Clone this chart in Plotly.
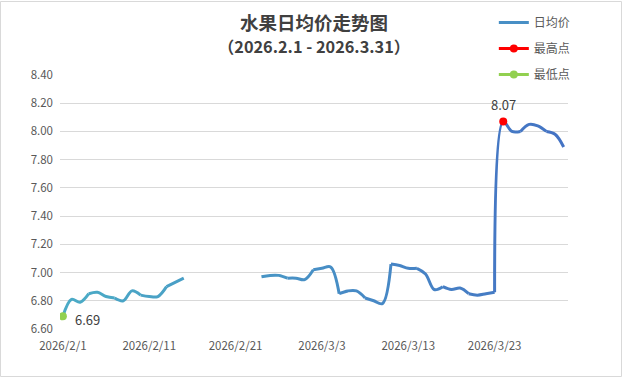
import plotly.graph_objects as go
import pandas as pd

# ---- data ----
dates = pd.date_range("2026-02-01", "2026-03-31", freq="D")
prices = [6.69, 6.81, 6.79, 6.85, 6.86, 6.83, 6.82, 6.80, 6.87, 6.84, 6.83, 6.83, 6.90, 6.93, 6.96,
          None, None, None, None, None, None, None, None,
          6.97, 6.98, 6.98, 6.96, 6.96, 6.95, 7.02, 7.03, 7.04, 6.85, 6.87, 6.87, 6.82, 6.80, 6.78,
          7.06, 7.05, 7.03, 7.03, 6.99, 6.88, 6.90, 6.88, 6.89, 6.85, 6.84, 6.85, 6.86,
          8.07, 8.00, 8.00, 8.05, 8.04, 8.00, 7.98, 7.89]
tick_labels = ["2026/2/1", "2026/2/11", "2026/2/21", "2026/3/3", "2026/3/13", "2026/3/23"]
tick_dates = pd.to_datetime(tick_labels, format="%Y/%m/%d")
y_ticks = [6.60, 6.80, 7.00, 7.20, 7.40, 7.60, 7.80, 8.00, 8.20, 8.40]

c_start = (75, 172, 198)
c_end = (68, 114, 196)

def mix(t):
    return "rgb(%d,%d,%d)" % tuple(round(a + (b - a) * t) for a, b in zip(c_start, c_end))

fig = go.Figure()

# contiguous runs
runs, cur = [], []
for i, v in enumerate(prices):
    if v is None:
        if cur:
            runs.append(cur)
        cur = []
    else:
        cur.append(i)
if cur:
    runs.append(cur)

n = len(prices) - 1
step = 3
for run in runs:
    for s in range(0, len(run) - 1, step):
        idx = run[s:s + step + 1]
        t = (idx[0] + idx[-1]) / 2 / n
        fig.add_trace(go.Scatter(
            x=[dates[i] for i in idx], y=[prices[i] for i in idx],
            mode="lines", line=dict(color=mix(t), width=3, shape="spline", smoothing=1.0),
            showlegend=False, hoverinfo="skip"))

valid = [(d, v) for d, v in zip(dates, prices) if v is not None]
d_max, v_max = max(valid, key=lambda p: p[1])
d_min, v_min = min(valid, key=lambda p: p[1])

# legend entries
fig.add_trace(go.Scatter(x=[dates[0]], y=[None], mode="lines", name="日均价",
                         line=dict(color=mix(0.5), width=3), legendgroup="a"))
fig.add_trace(go.Scatter(x=[d_max], y=[v_max], mode="lines+markers", name="最高点",
                         line=dict(color="#ff0000", width=3),
                         marker=dict(color="#ff0000", size=8), legendgroup="b"))
fig.add_trace(go.Scatter(x=[d_min], y=[v_min], mode="lines+markers", name="最低点",
                         line=dict(color="#92d050", width=3),
                         marker=dict(color="#92d050", size=8), legendgroup="c"))

lab_font = dict(family="Noto Sans CJK SC", size=13, color="#404040")
fig.add_annotation(x=d_max, y=v_max, text="%.2f" % v_max, showarrow=False,
                   yanchor="bottom", yshift=6, font=lab_font)
fig.add_annotation(x=d_min, y=v_min, text="%.2f" % v_min, showarrow=False,
                   xanchor="left", xshift=10, yshift=-3, font=lab_font)

fig.add_annotation(xref="paper", yref="paper", x=0.5, y=1 + (75 - 22.5) / 254, yanchor="middle",
                   text="<b>水果日均价走势图</b>", showarrow=False,
                   font=dict(family="Noto Sans CJK SC", size=18.5, color="#404040"))
fig.add_annotation(xref="paper", yref="paper", x=0.5, y=1 + (75 - 45.5) / 254, yanchor="middle",
                   text="<b>（2026.2.1 - 2026.3.31）</b>", showarrow=False,
                   font=dict(family="Noto Sans CJK SC", size=16.3, color="#404040"))

# outer border
fig.add_shape(type="rect", xref="paper", yref="paper",
              x0=(0.5 - 60) / 508, x1=(621.5 - 60) / 508,
              y0=-(376.5 - 329) / 254, y1=1 + (75 - 1.5) / 254,
              line=dict(color="#d9d9d9", width=1))

half_day = pd.Timedelta(hours=12)
fig.update_layout(
    width=623, height=378,
    margin=dict(l=60, r=55, t=75, b=49, autoexpand=False),
    paper_bgcolor="white", plot_bgcolor="white",
    font=dict(family="Noto Sans CJK SC", size=11, color="#595959"),
    showlegend=True,
    legend=dict(x=0.854, y=1 + (75 - 8) / 254, xanchor="left", yanchor="top",
                font=dict(size=12, color="#595959"), tracegroupgap=7,
                bgcolor="rgba(0,0,0,0)", itemwidth=30),
    xaxis=dict(range=[dates[0] - pd.Timedelta(hours=8), dates[-1] + half_day],
               tickvals=tick_dates, ticktext=tick_labels, showgrid=False,
               showline=False, zeroline=False, ticks="", ticklabelstandoff=8,
               tickfont=dict(size=11.5, color="#595959")),
    yaxis=dict(range=[6.60, 8.40], tickvals=y_ticks, ticktext=["%.2f" % v for v in y_ticks],
               showgrid=True, gridcolor="#d9d9d9", gridwidth=1, zeroline=False,
               showline=False, ticks="", ticklabelstandoff=6,
               tickfont=dict(size=11.5, color="#595959")),
)

fig.write_html("out.html")
